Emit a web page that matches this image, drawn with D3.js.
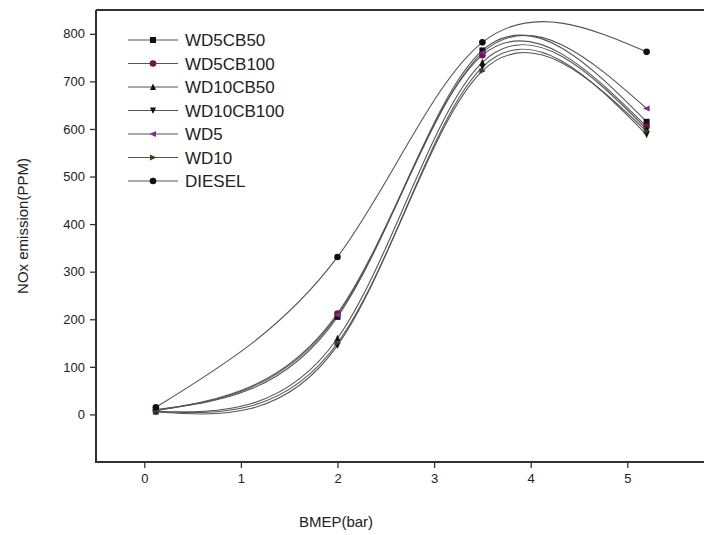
<!DOCTYPE html>
<html><head><meta charset="utf-8">
<script src="https://cdn.jsdelivr.net/npm/d3@7"></script>
<style>body{margin:0;background:#fff;} svg{display:block;}</style>
</head><body>
<svg id="c" width="704" height="535"></svg>
<script>
const bmep = [0.12, 2, 3.5, 5.2];
const seriesNames = ["WD5CB50","WD5CB100","WD10CB50","WD10CB100","WD5","WD10","DIESEL"];
const WD5CB50   = [10, 205, 765, 615];
const WD5CB100  = [8, 212, 755, 605];
const WD10CB50  = [6, 160, 740, 600];
const WD10CB100 = [5, 145, 730, 588];
const WD5       = [8, 209, 760, 643];
const WD10      = [6, 150, 722, 595];
const DIESEL    = [15, 331, 782, 762];
const xTicks = [0,1,2,3,4,5];
const yTicks = [0,100,200,300,400,500,600,700,800];
const markerColors = ["#111","#7a1040","#111","#111","#7a2a9a","#2a4a1a","#111"];
const markerShapes = ["square","circle","triUp","triDown","triLeft","triRight","circle"];
const values = [WD5CB50,WD5CB100,WD10CB50,WD10CB100,WD5,WD10,DIESEL];

const svg = d3.select("#c");
const L=96, T=10, B=462;
const x = d3.scaleLinear().domain([-0.5,6]).range([L, L+6.5*96.6]);
const y = d3.scaleLinear().domain([-100,850]).range([B, T]);

const line = d3.line().x(d=>x(d[0])).y(d=>y(d[1])).curve(d3.curveNatural);

const g = svg.append("g");
values.forEach((v,k)=>{
  g.append("path").attr("d", line(bmep.map((b,i)=>[b,v[i]]))).attr("fill","none")
   .attr("stroke","#555").attr("stroke-width",1.1);
});

function marker(sel, shape, cx, cy, color){
  const s=3;
  let el;
  if(shape==="square") el = sel.append("rect").attr("x",cx-s).attr("y",cy-s).attr("width",2*s).attr("height",2*s);
  else if(shape==="circle") el = sel.append("circle").attr("cx",cx).attr("cy",cy).attr("r",s+0.3);
  else {
    const pts = {triUp:[[0,-s-0.5],[s,s],[-s,s]], triDown:[[0,s+0.5],[s,-s],[-s,-s]],
                 triLeft:[[-s-0.5,0],[s,-s],[s,s]], triRight:[[s+0.5,0],[-s,-s],[-s,s]]}[shape];
    el = sel.append("polygon").attr("points", pts.map(p=>(cx+p[0])+","+(cy+p[1])).join(" "));
  }
  el.attr("fill",color);
}
values.forEach((v,k)=>{
  v.forEach((val,i)=> marker(g, markerShapes[k], x(bmep[i]), y(val), markerColors[k]));
});

// frame
svg.append("path").attr("d",`M${L},${T}H704M${L},${T}V${B}H704`).attr("fill","none")
  .attr("stroke","#333").attr("stroke-width",2);

// axes
const xa = svg.append("g").attr("transform",`translate(0,${B})`)
  .call(d3.axisBottom(x).tickValues(xTicks).tickSize(6).tickPadding(6).tickFormat(d3.format("d")));
const ya = svg.append("g").attr("transform",`translate(${L},0)`)
  .call(d3.axisLeft(y).tickValues(yTicks).tickSize(6).tickPadding(5).tickFormat(d3.format("d")));
[xa,ya].forEach(a=>{
  a.select(".domain").remove();
  a.selectAll("line").attr("stroke","#333").attr("stroke-width",1.3);
  a.selectAll("text").attr("fill","#222").style("font-family","Liberation Sans, Arial, sans-serif").style("font-size","13px");
});

// titles
svg.append("text").attr("x",336).attr("y",527).attr("text-anchor","middle")
  .style("font-family","Liberation Sans, Arial, sans-serif").style("font-size","15px").attr("fill","#222").text("BMEP(bar)");
svg.append("text").attr("transform","translate(28,226) rotate(-90)").attr("text-anchor","middle")
  .style("font-family","Liberation Sans, Arial, sans-serif").style("font-size","15px").attr("fill","#222").text("NOx emission(PPM)");

// legend
const lg = svg.append("g");
seriesNames.forEach((n,k)=>{
  const yy = 40 + k*23.5;
  lg.append("line").attr("x1",128).attr("x2",178).attr("y1",yy).attr("y2",yy).attr("stroke","#555").attr("stroke-width",1.1);
  marker(lg, markerShapes[k], 153, yy, markerColors[k]);
  lg.append("text").attr("x",185).attr("y",yy+6).style("font-family","Liberation Sans, Arial, sans-serif")
    .style("font-size","17px").attr("fill","#222").text(n);
});
</script>
</body></html>
